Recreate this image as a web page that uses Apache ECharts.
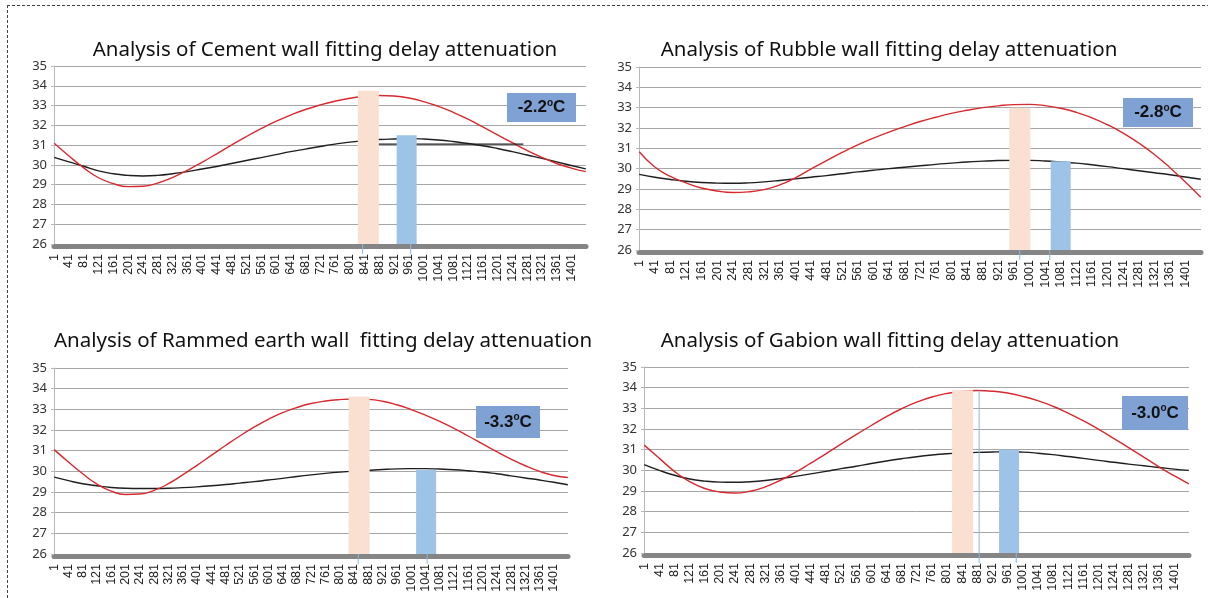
<!DOCTYPE html>
<html><head><meta charset="utf-8">
<script src="https://cdn.jsdelivr.net/npm/echarts@6/dist/echarts.min.js"></script>
<style>html,body{margin:0;padding:0;background:#fff}#c{width:1208px;height:598px}</style>
</head><body><div id="c"></div>
<script>
// ---- data ----
const sampleMinutes = ['1','41','81','121','161','201','241','281','321','361','401','441','481','521','561','601','641','681','721','761','801','841','881','921','961','1001','1041','1081','1121','1161','1201','1241','1281','1321','1361','1401','1440'];

const titles = [
  'Analysis of Cement wall fitting delay attenuation',
  'Analysis of Rubble wall fitting delay attenuation',
  'Analysis of Rammed earth wall  fitting delay attenuation',
  'Analysis of Gabion wall fitting delay attenuation'
];
const attenuationLabels = ['-2.2', '-2.8', '-3.3', '-3.0'];

// outdoor (red) and indoor (black) fitted temperatures, read at sampleMinutes
const cementOuter = [31.09,30.45,29.85,29.35,29.05,28.9,28.92,29.08,29.36,29.72,30.13,30.56,31.0,31.43,31.83,32.2,32.52,32.8,33.03,33.22,33.37,33.47,33.51,33.48,33.38,33.2,32.96,32.66,32.31,31.92,31.52,31.12,30.73,30.38,30.07,29.84,29.66];
const cementInner = [30.38,30.15,29.93,29.7,29.55,29.47,29.44,29.47,29.55,29.66,29.79,29.92,30.07,30.22,30.37,30.52,30.67,30.8,30.93,31.05,31.15,31.22,31.28,31.31,31.33,31.31,31.26,31.18,31.08,30.97,30.83,30.67,30.5,30.33,30.15,29.97,29.8];
const cementFlat = [['851', 31.05], ['1271', 31.05]];

const rubbleOuter = [30.83,30.08,29.62,29.3,29.05,28.9,28.83,28.86,28.97,29.2,29.55,29.98,30.4,30.8,31.17,31.5,31.8,32.07,32.32,32.53,32.72,32.87,33.0,33.09,33.15,33.16,33.1,32.97,32.77,32.5,32.16,31.75,31.26,30.7,30.05,29.33,28.6];
const rubbleInner = [29.72,29.58,29.47,29.38,29.32,29.29,29.28,29.3,29.35,29.42,29.5,29.58,29.66,29.75,29.84,29.92,30.0,30.07,30.14,30.21,30.27,30.33,30.37,30.4,30.41,30.41,30.38,30.33,30.27,30.19,30.1,30.0,29.9,29.8,29.7,29.59,29.48];

const rammedOuter = [31.05,30.45,29.88,29.38,29.04,28.88,28.9,29.08,29.4,29.83,30.29,30.77,31.25,31.71,32.14,32.52,32.84,33.09,33.28,33.4,33.47,33.5,33.48,33.39,33.22,32.99,32.72,32.42,32.08,31.71,31.33,30.95,30.59,30.27,30.0,29.8,29.7];
const rammedInner = [29.72,29.55,29.4,29.3,29.22,29.18,29.17,29.17,29.18,29.21,29.25,29.3,29.36,29.43,29.5,29.58,29.66,29.75,29.83,29.9,29.96,30.01,30.05,30.09,30.12,30.13,30.13,30.11,30.08,30.03,29.97,29.88,29.78,29.68,29.58,29.47,29.35];

const gabionOuter = [31.22,30.58,29.95,29.45,29.12,28.95,28.9,28.99,29.2,29.52,29.91,30.35,30.8,31.27,31.73,32.17,32.6,32.98,33.3,33.55,33.72,33.82,33.86,33.83,33.74,33.58,33.37,33.1,32.77,32.4,31.99,31.55,31.1,30.64,30.17,29.74,29.35];
const gabionInner = [30.28,30.0,29.76,29.58,29.48,29.43,29.42,29.45,29.51,29.6,29.71,29.83,29.95,30.08,30.2,30.33,30.45,30.56,30.66,30.74,30.8,30.84,30.87,30.89,30.9,30.88,30.83,30.76,30.67,30.58,30.48,30.39,30.3,30.22,30.14,30.06,30.0];

// peak markers (peach = outdoor peak, blue = indoor peak)
const outerPeakMinute = ['850', '975', '854', '841'];
const outerPeakValue = [33.75, 33.0, 33.62, 33.87];
const innerPeakMinute = ['955', '1081', '1043', '965'];
const innerPeakValue = [31.5, 30.37, 30.07, 31.0];
// small blue guide ticks [minute, top value]
const guideTicks = [
  [['836', 26], ['966', 26]],
  [['976', 26], ['1053', 26]],
  [['853', 26], ['1046', 26]],
  [['886', 33.87], ['984', 26]]
];

const yMin = 26, yMax = 35, yStep = 1;
const minutes = Array.from({length: 1440}, (_, i) => String(i + 1));

const outerSets = [cementOuter, rubbleOuter, rammedOuter, gabionOuter];
const innerSets = [cementInner, rubbleInner, rammedInner, gabionInner];

// ---- layout ----
const grids = [
  {left: 54, top: 66, width: 532, height: 178},
  {left: 639, top: 67, width: 562, height: 183},
  {left: 54, top: 368, width: 514, height: 186},
  {left: 644, top: 367, width: 545, height: 186}
];
const titlePos = [[325, 40], [889, 40], [323, 331], [890, 331]];
const boxes = [[507, 93, 69, 29], [1123, 98, 70, 29], [476, 406, 64, 32], [1122, 396, 66, 34]];

const pairs = (vals) => sampleMinutes.map((m, i) => [m, vals[i]]);

const option = {
  animation: false,
  backgroundColor: '#fff',
  title: titles.map((t, i) => ({
    text: t, left: titlePos[i][0], top: titlePos[i][1], textAlign: 'center', padding: 0,
    textStyle: {fontFamily: 'Noto Sans', fontSize: 20.5, fontWeight: 'normal', color: '#111'}
  })),
  grid: grids,
  xAxis: grids.map((g, i) => ({
    type: 'category', gridIndex: i, data: minutes, boundaryGap: true, offset: 2,
    axisLine: {show: true, lineStyle: {color: '#858585', width: 5}},
    axisTick: {show: false},
    axisLabel: {interval: 39, rotate: 90, fontSize: 12.5, color: '#222', fontFamily: 'Liberation Sans', margin: 8},
    splitLine: {show: false}
  })),
  yAxis: grids.map((g, i) => ({
    type: 'value', gridIndex: i, min: yMin, max: yMax, interval: yStep,
    axisLine: {show: true, lineStyle: {color: '#b8b8b8', width: 1}},
    axisTick: {show: true, length: 3, lineStyle: {color: '#b8b8b8'}},
    axisLabel: {fontSize: 13, color: '#333', fontFamily: 'Noto Sans', margin: 7},
    splitLine: {show: true, lineStyle: {color: '#a6a6a6', width: 1}}
  })),
  series: [],
  graphic: []
};

for (let i = 0; i < 4; i++) {
  option.series.push({
    type: 'line', xAxisIndex: i, yAxisIndex: i, data: pairs(innerSets[i]), smooth: 0.5,
    showSymbol: false, symbol: 'none', z: 2, lineStyle: {color: '#1e1e1e', width: 1.4}
  });
  option.series.push({
    type: 'line', xAxisIndex: i, yAxisIndex: i, data: pairs(outerSets[i]), smooth: 0.5,
    showSymbol: false, symbol: 'none', z: 2, lineStyle: {color: '#d8292f', width: 1.4}
  });
  option.series.push({
    type: 'bar', xAxisIndex: i, yAxisIndex: i, data: [[outerPeakMinute[i], outerPeakValue[i]]],
    barWidth: 21, z: 3, itemStyle: {color: '#f9e0d1'}
  });
  option.series.push({
    type: 'bar', xAxisIndex: i, yAxisIndex: i, data: [[innerPeakMinute[i], innerPeakValue[i]]],
    barWidth: 20, barGap: '-100%', z: 3, itemStyle: {color: '#9dc3e6'}
  });
  option.series.push({
    type: 'custom', xAxisIndex: i, yAxisIndex: i, data: guideTicks[i], z: 5, silent: true, clip: false,
    renderItem: (params, api) => {
      const top = api.coord([api.value(0), api.value(1)]);
      const base = api.coord([api.value(0), yMin]);
      return {type: 'line', shape: {x1: top[0], y1: top[1], x2: base[0], y2: base[1] + 10},
        style: {stroke: '#8db4e2', lineWidth: 1}};
    }
  });
  const b = boxes[i];
  option.graphic.push({
    type: 'group', left: b[0], top: b[1], z: 100,
    children: [
      {type: 'rect', z: 100, shape: {x: 0, y: 0, width: b[2], height: b[3]}, style: {fill: '#7fa1d3'}},
      {type: 'text', z: 101, x: b[2] / 2, y: b[3] / 2, style: {
        text: '{n|' + attenuationLabels[i] + '}{s|o}{n|C}', align: 'center', verticalAlign: 'middle',
        rich: {
          n: {fontFamily: 'Liberation Sans', fontWeight: 'bold', fontSize: 17, lineHeight: 19, fill: '#111'},
          s: {fontFamily: 'Liberation Sans', fontWeight: 'bold', fontSize: 10, lineHeight: 10, verticalAlign: 'top', fill: '#111'}
        }
      }}
    ]
  });
}
option.series.push({
  type: 'line', xAxisIndex: 0, yAxisIndex: 0, data: cementFlat, showSymbol: false, symbol: 'none',
  z: 2, lineStyle: {color: '#1e1e1e', width: 1.2}
});

// dashed frame
option.graphic.push({type: 'line', z: 100, shape: {x1: 7, y1: 5.5, x2: 1208, y2: 5.5}, style: {stroke: '#444', lineWidth: 1, lineDash: [3, 2]}});
option.graphic.push({type: 'line', z: 100, shape: {x1: 7.5, y1: 5, x2: 7.5, y2: 598}, style: {stroke: '#444', lineWidth: 1, lineDash: [3, 2]}});

const chart = echarts.init(document.getElementById('c'), null, {renderer: 'canvas'});
chart.setOption(option);
</script>
</body></html>
